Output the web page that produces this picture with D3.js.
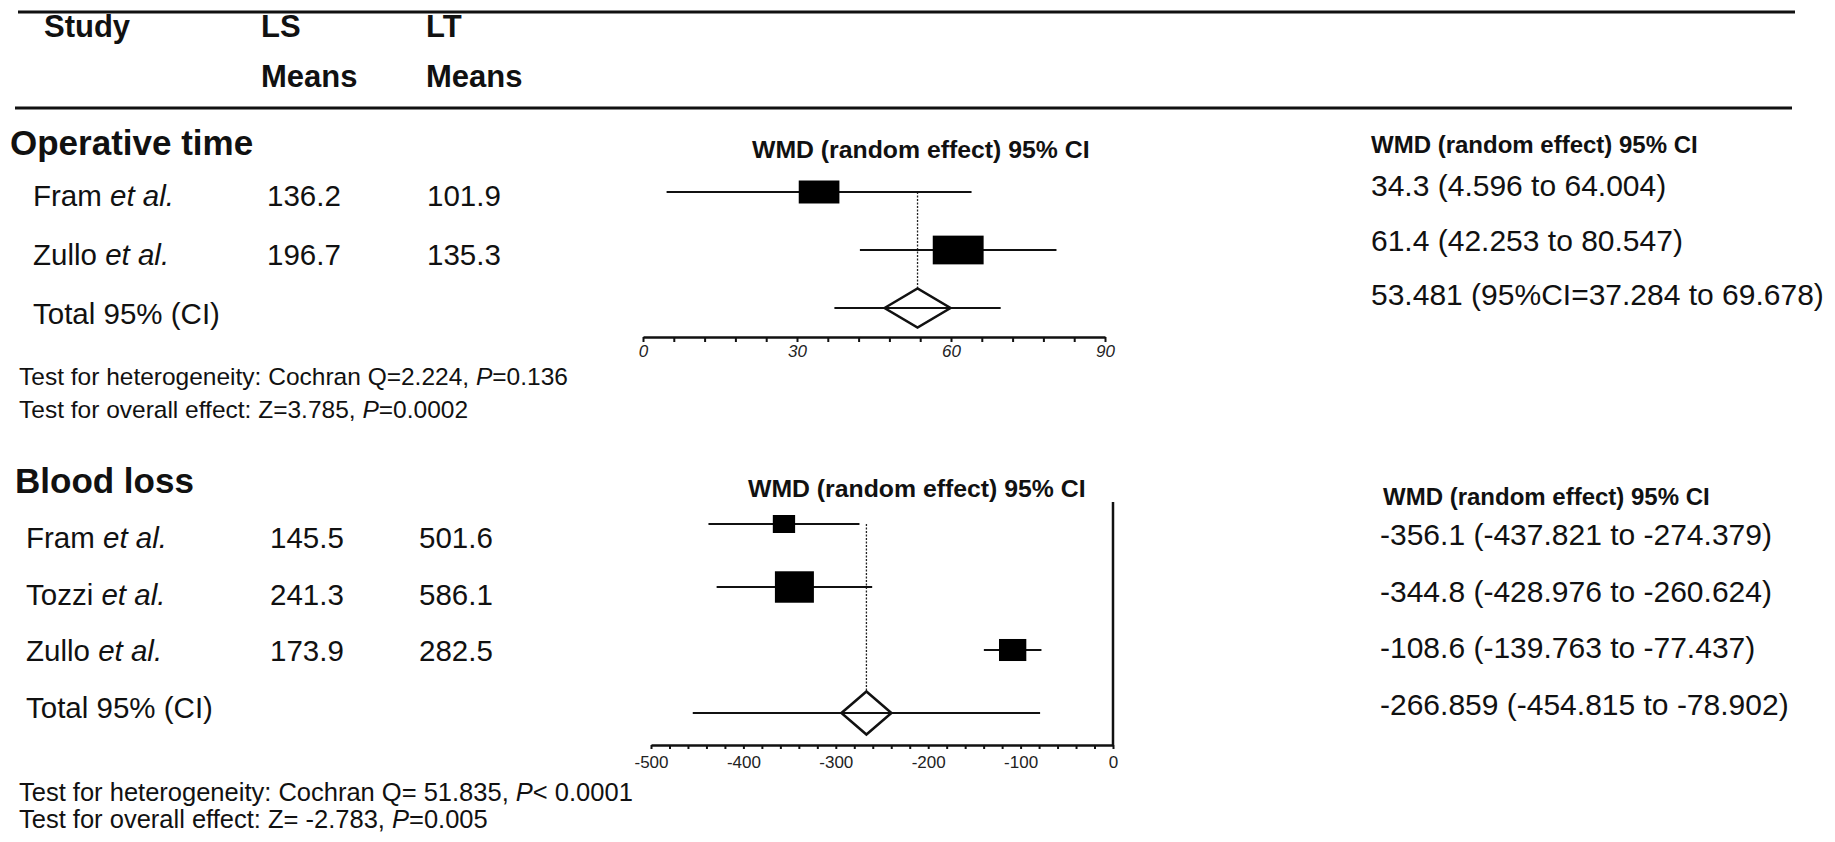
<!DOCTYPE html>
<html>
<head>
<meta charset="utf-8">
<script src="https://cdn.jsdelivr.net/npm/d3@7"></script>
<style>
  body { margin: 0; background: #fff; }
  svg { display: block; font-family: "Liberation Sans", Arial, Helvetica, sans-serif; }
  text { fill: #111; }
  .bold { font-weight: bold; }
  .axis path, .axis line { stroke: #111; }
  .axis text { fill: #222; }
</style>
</head>
<body>
<svg></svg>
<script>
// table header
var headerTop = ["Study", "LS", "LT"];
var headerBottom = ["", "Means", "Means"];

// operative time
var opStudies = ["Fram", "Zullo"];
var opLS = [136.2, 196.7];
var opLT = [101.9, 135.3];
var opWMD = [34.3, 61.4];
var opLower = [4.596, 42.253];
var opUpper = [64.004, 80.547];
var opWeight = [39, 61];
var opTotal = [53.481, 37.284, 69.678];
var opTickLabels = [0, 30, 60, 90];
var opStats = [
  ["Test for heterogeneity: Cochran Q=2.224, ", "P", "=0.136"],
  ["Test for overall effect: Z=3.785, ", "P", "=0.0002"]
];

// blood loss
var blStudies = ["Fram", "Tozzi", "Zullo"];
var blLS = [145.5, 241.3, 173.9];
var blLT = [501.6, 586.1, 282.5];
var blWMD = [-356.1, -344.8, -108.6];
var blLower = [-437.821, -428.976, -139.763];
var blUpper = [-274.379, -260.624, -77.437];
var blWeight = [18, 55, 27];
var blTotal = [-266.859, -454.815, -78.902];
var blTickLabels = [-500, -400, -300, -200, -100, 0];
var blStats = [
  ["Test for heterogeneity: Cochran Q= 51.835, ", "P", "< 0.0001"],
  ["Test for overall effect: Z= -2.783, ", "P", "=0.005"]
];

var width = 1835,
    height = 842;

var svg = d3.select("svg")
  .attr("width", width)
  .attr("height", height);

drawHeader();

drawSection({
  title: "Operative time", titleX: 10, titleY: 155,
  studies: opStudies, ls: opLS, lt: opLT,
  wmd: opWMD, lower: opLower, upper: opUpper, weight: opWeight, total: opTotal,
  totalLabel: function(t) { return t[0] + " (95%CI=" + t[1] + " to " + t[2] + ")"; },
  stats: opStats, statsX: 19, statsY: 385, statsStep: 33, statsSize: 24.5,
  nameX: 33, lsX: 267, ltX: 427, textTop: 206, textStep: 59,
  domain: [0, 90], range: [643, 1105], tickStep: 6, tickLabels: opTickLabels, italicTicks: true,
  axisY: 337, tickSize: 5, tickPad: 3, zeroLine: false,
  plotTop: 192, plotStep: 58, boxK: 3.68, boxAspect: 1.77, diamondW: 33, diamondH: 19.5,
  plotTitleX: 752, plotTitleY: 158,
  rightX: 1371, rightTitleY: 153, valueX: 1371, valueTop: 196, valueStep: 54.5
});

drawSection({
  title: "Blood loss", titleX: 15, titleY: 493,
  studies: blStudies, ls: blLS, lt: blLT,
  wmd: blWMD, lower: blLower, upper: blUpper, weight: blWeight, total: blTotal,
  totalLabel: function(t) { return t[0] + " (" + t[1] + " to " + t[2] + ")"; },
  stats: blStats, statsX: 19, statsY: 801, statsStep: 27, statsSize: 25.5,
  nameX: 26, lsX: 270, ltX: 419, textTop: 548, textStep: 56.6,
  domain: [-500, 0], range: [651, 1113], tickStep: 20, tickLabels: blTickLabels, italicTicks: false,
  axisY: 745, tickSize: 4, tickPad: 7, zeroLine: true, zeroTop: 502,
  plotTop: 524, plotStep: 63, boxK: 4.24, boxAspect: 1.24, diamondW: 25, diamondH: 21.5,
  plotTitleX: 748, plotTitleY: 497,
  rightX: 1383, rightTitleY: 505, valueX: 1380, valueTop: 545, valueStep: 56.7
});

function drawHeader() {
  svg.append("line")
    .attr("x1", 18).attr("x2", 1795)
    .attr("y1", 12).attr("y2", 12)
    .style("stroke", "#111").style("stroke-width", 3);
  svg.append("line")
    .attr("x1", 15).attr("x2", 1792)
    .attr("y1", 108).attr("y2", 108)
    .style("stroke", "#111").style("stroke-width", 3);

  var colX = [44, 261, 426];
  svg.selectAll(".head-top")
    .data(headerTop)
    .enter().append("text")
      .attr("class", "bold head-top")
      .attr("x", function(d, i) { return colX[i]; })
      .attr("y", 37)
      .style("font-size", "31px")
      .text(function(d) { return d; });
  svg.selectAll(".head-bottom")
    .data(headerBottom)
    .enter().append("text")
      .attr("class", "bold head-bottom")
      .attr("x", function(d, i) { return colX[i]; })
      .attr("y", 87)
      .style("font-size", "31px")
      .text(function(d) { return d; });
}

function drawSection(s) {
  var g = svg.append("g");
  var n = s.studies.length;

  g.append("text")
    .attr("class", "bold")
    .attr("x", s.titleX)
    .attr("y", s.titleY)
    .style("font-size", "35px")
    .text(s.title);

  // left table
  var textY = function(i) { return s.textTop + i * s.textStep; };
  var names = g.selectAll(".name")
    .data(s.studies.concat(["Total"]))
    .enter().append("text")
      .attr("class", "name")
      .attr("x", s.nameX)
      .attr("y", function(d, i) { return textY(i); })
      .style("font-size", "29.5px");
  names.each(function(d, i) {
    var t = d3.select(this);
    if (i === n) { t.text("Total 95% (CI)"); return; }
    t.append("tspan").text(d + " ");
    t.append("tspan").style("font-style", "italic").text("et al.");
  });

  g.selectAll(".ls")
    .data(s.ls)
    .enter().append("text")
      .attr("x", s.lsX)
      .attr("y", function(d, i) { return textY(i); })
      .style("font-size", "29.5px")
      .text(function(d) { return d; });
  g.selectAll(".lt")
    .data(s.lt)
    .enter().append("text")
      .attr("x", s.ltX)
      .attr("y", function(d, i) { return textY(i); })
      .style("font-size", "29.5px")
      .text(function(d) { return d; });

  var stats = g.selectAll(".stat")
    .data(s.stats)
    .enter().append("text")
      .attr("x", s.statsX)
      .attr("y", function(d, i) { return s.statsY + i * s.statsStep; })
      .style("font-size", s.statsSize + "px");
  stats.each(function(d) {
    var t = d3.select(this);
    t.append("tspan").text(d[0]);
    t.append("tspan").style("font-style", "italic").text(d[1]);
    t.append("tspan").text(d[2]);
  });

  // forest plot
  var x = d3.scaleLinear().domain(s.domain).range(s.range);
  var plotY = function(i) { return s.plotTop + i * s.plotStep; };
  var boxH = d3.scaleSqrt().domain([0, 100]).range([0, s.boxK * 10]);

  g.append("text")
    .attr("class", "bold")
    .attr("x", s.plotTitleX)
    .attr("y", s.plotTitleY)
    .style("font-size", "24.8px")
    .text("WMD (random effect) 95% CI");

  var axis = d3.axisBottom(x)
    .tickValues(d3.range(s.domain[0], s.domain[1] + 0.001, s.tickStep))
    .tickSize(s.tickSize)
    .tickSizeOuter(0)
    .tickPadding(s.tickPad)
    .tickFormat(function(d) { return s.tickLabels.indexOf(d) !== -1 ? d : ""; });

  var ax = g.append("g")
    .attr("class", "axis")
    .attr("transform", "translate(0," + s.axisY + ")")
    .call(axis);
  ax.select(".domain").style("stroke-width", 2.5);
  ax.selectAll(".tick line").style("stroke-width", 2);
  ax.selectAll(".tick text")
    .style("font-size", "17px")
    .style("font-family", "\"Liberation Sans\", Arial, sans-serif")
    .style("font-style", s.italicTicks ? "italic" : "normal");

  if (s.zeroLine) {
    g.append("line")
      .attr("x1", x(0)).attr("x2", x(0))
      .attr("y1", s.zeroTop).attr("y2", s.axisY)
      .style("stroke", "#111").style("stroke-width", 2.5);
  }

  var total = s.total;
  var totalY = plotY(n);

  // dotted line at pooled estimate
  g.append("line")
    .attr("x1", x(total[0])).attr("x2", x(total[0]))
    .attr("y1", plotY(0)).attr("y2", totalY - s.diamondH)
    .style("stroke", "#222").style("stroke-width", 1.3)
    .style("stroke-dasharray", "2,1.5");

  var studyRows = g.selectAll(".study")
    .data(s.wmd)
    .enter().append("g")
      .attr("class", "study");

  studyRows.append("line")
    .attr("x1", function(d, i) { return x(s.lower[i]); })
    .attr("x2", function(d, i) { return x(s.upper[i]); })
    .attr("y1", function(d, i) { return plotY(i); })
    .attr("y2", function(d, i) { return plotY(i); })
    .style("stroke", "#111").style("stroke-width", 2.2);

  studyRows.append("rect")
    .attr("x", function(d, i) { return x(d) - boxH(s.weight[i]) * s.boxAspect / 2; })
    .attr("y", function(d, i) { return plotY(i) - boxH(s.weight[i]) / 2; })
    .attr("width", function(d, i) { return boxH(s.weight[i]) * s.boxAspect; })
    .attr("height", function(d, i) { return boxH(s.weight[i]); })
    .style("fill", "#000");

  g.append("line")
    .attr("x1", x(total[1])).attr("x2", x(total[2]))
    .attr("y1", totalY).attr("y2", totalY)
    .style("stroke", "#111").style("stroke-width", 2.2);

  var cx = x(total[0]);
  g.append("path")
    .attr("d", "M" + (cx - s.diamondW) + "," + totalY +
               "L" + cx + "," + (totalY - s.diamondH) +
               "L" + (cx + s.diamondW) + "," + totalY +
               "L" + cx + "," + (totalY + s.diamondH) + "Z")
    .style("fill", "none")
    .style("stroke", "#111")
    .style("stroke-width", 2.5);

  // right column
  g.append("text")
    .attr("class", "bold")
    .attr("x", s.rightX)
    .attr("y", s.rightTitleY)
    .style("font-size", "24px")
    .text("WMD (random effect) 95% CI");

  var labels = s.wmd.map(function(d, i) {
    return d + " (" + s.lower[i] + " to " + s.upper[i] + ")";
  }).concat([s.totalLabel(total)]);

  g.selectAll(".value")
    .data(labels)
    .enter().append("text")
      .attr("class", "value")
      .attr("x", s.valueX)
      .attr("y", function(d, i) { return s.valueTop + i * s.valueStep; })
      .style("font-size", "30px")
      .text(function(d) { return d; });
}
</script>
</body>
</html>
